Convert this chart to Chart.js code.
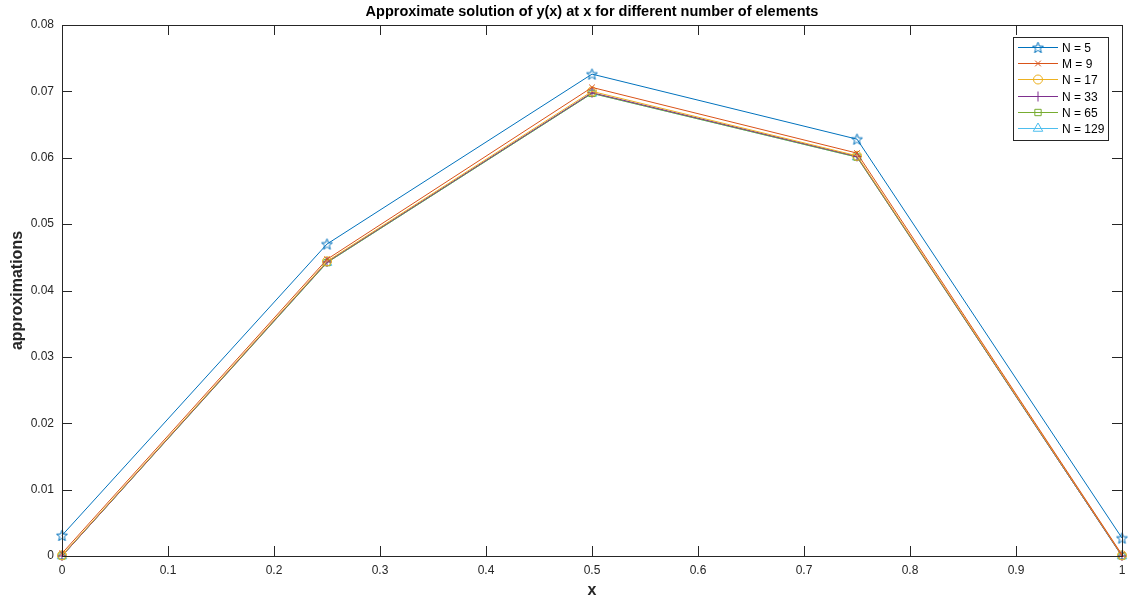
<!DOCTYPE html>
<html>
<head>
<meta charset="utf-8">
<script src="https://cdn.jsdelivr.net/npm/chart.js@4.4.1/dist/chart.umd.min.js"></script>
<style>
  body { margin: 0; background: #fff; }
  #wrap { width: 1134px; height: 605px; position: relative; }
</style>
</head>
<body>
<div id="wrap"><canvas id="chart"></canvas></div>
<script>
const xValues = [0, 0.25, 0.5, 0.75, 1];
const seriesNames = ["N = 5", "M = 9", "N = 17", "N = 33", "N = 65", "N = 129"];
const n5 = [0.0031, 0.0470, 0.0726, 0.0628, 0.0027];
const m9 = [0.0004, 0.0447, 0.0706, 0.0607, 0.0002];
const n17 = [0.0001, 0.0444, 0.0700, 0.0603, 0.0001];
const n33 = [0, 0.0443, 0.0698, 0.0602, 0];
const n65 = [0, 0.0442, 0.0697, 0.0601, 0];
const n129 = [0, 0.0442, 0.0697, 0.0601, 0];
const xTicks = [0, 0.1, 0.2, 0.3, 0.4, 0.5, 0.6, 0.7, 0.8, 0.9, 1];
const yTicks = [0, 0.01, 0.02, 0.03, 0.04, 0.05, 0.06, 0.07, 0.08];

const colors = ["#0072BD", "#D95319", "#EDB120", "#7E2F8E", "#77AC30", "#4DBEEE"];
const markerSize = [5, 4, 4.5, 5, 4.5, 5.5];
const allSeries = [n5, m9, n17, n33, n65, n129];

const axisColor = "#262626";
const fontFam = "'Liberation Sans', Arial, sans-serif";

// five-point star outline (chart.js 'star' is an asterisk)
function makeStar(color) {
  const cv = document.createElement("canvas");
  cv.width = 13; cv.height = 13;
  const c = cv.getContext("2d");
  c.strokeStyle = color;
  c.lineWidth = 1;
  c.beginPath();
  for (let k = 0; k < 10; k++) {
    const r = k % 2 === 0 ? 5.8 : 2.4;
    const ang = -Math.PI / 2 + k * Math.PI / 5;
    const px = 6.5 + r * Math.cos(ang), py = 7 + r * Math.sin(ang);
    if (k === 0) c.moveTo(px, py); else c.lineTo(px, py);
  }
  c.closePath();
  c.stroke();
  return cv;
}

const markers = [makeStar(colors[0]), "crossRot", "circle", "cross", "rect", "triangle"];

const datasets = allSeries.map((vals, i) => ({
  label: seriesNames[i],
  data: vals.map((v, j) => ({ x: xValues[j], y: v })),
  borderColor: colors[i],
  backgroundColor: "rgba(0,0,0,0)",
  borderWidth: 1,
  pointStyle: markers[i],
  pointRadius: markerSize[i],
  pointBorderWidth: 1,
  pointBorderColor: colors[i],
  pointBackgroundColor: "rgba(0,0,0,0)",
  showLine: true,
  tension: 0,
  clip: false
}));

// closed box with inward ticks, like the original figure
const boxPlugin = {
  id: "boxAxes",
  afterDatasetsDraw(chart) {
    const c = chart.ctx;
    const a = chart.chartArea;
    const xs = chart.scales.x, ys = chart.scales.y;
    c.save();
    c.strokeStyle = axisColor;
    c.lineWidth = 1;
    c.strokeRect(Math.round(a.left) + 0.5, Math.round(a.top) + 0.5,
      Math.round(a.right - a.left), Math.round(a.bottom - a.top));
    c.beginPath();
    xTicks.forEach(t => {
      const px = Math.round(xs.getPixelForValue(t)) + 0.5;
      c.moveTo(px, a.bottom); c.lineTo(px, a.bottom - 10);
      c.moveTo(px, a.top); c.lineTo(px, a.top + 10);
    });
    yTicks.forEach(t => {
      const py = Math.round(ys.getPixelForValue(t)) + 0.5;
      c.moveTo(a.left, py); c.lineTo(a.left + 10, py);
      c.moveTo(a.right, py); c.lineTo(a.right - 10, py);
    });
    c.stroke();

    // title
    c.fillStyle = "#000";
    c.font = "bold 14.5px " + fontFam;
    c.textAlign = "center";
    c.textBaseline = "middle";
    c.fillText("Approximate solution of y(x) at x for different number of elements", (a.left + a.right) / 2, 12);
    c.restore();
  },
  afterDraw(chart) {
    // legend box, MATLAB style: line with marker in the middle
    const c = chart.ctx;
    const a = chart.chartArea;
    const w = 95, rowH = 16.2, h = 103;
    const x0 = a.right - 14 - w, y0 = a.top + 12;
    c.save();
    c.fillStyle = "#fff";
    c.fillRect(x0, y0, w, h);
    c.strokeStyle = axisColor;
    c.lineWidth = 1;
    c.strokeRect(Math.round(x0) + 0.5, Math.round(y0) + 0.5, w, h);
    c.font = "12px " + fontFam;
    c.textAlign = "left";
    c.textBaseline = "middle";
    chart.data.datasets.forEach((ds, i) => {
      const y = Math.round(y0 + 10 + i * rowH) + 0.5;
      c.strokeStyle = ds.borderColor;
      c.lineWidth = 1;
      c.beginPath();
      c.moveTo(x0 + 5, y); c.lineTo(x0 + 45, y);
      c.stroke();
      c.fillStyle = "rgba(0,0,0,0)";
      Chart.helpers.drawPoint(c, { pointStyle: ds.pointStyle, radius: ds.pointRadius, rotation: 0, borderWidth: 1 }, x0 + 25, y);
      c.fillStyle = "#000";
      c.fillText(ds.label, x0 + 49, y + 1);
    });
    c.restore();
  }
};

const fmt = v => String(Number(Number(v).toFixed(2)));

const ctx = document.getElementById("chart").getContext("2d");
const config = {
  type: "scatter",
  data: { datasets: datasets },
  options: {
    responsive: true,
    maintainAspectRatio: false,
    animation: false,
    layout: { padding: { left: 0, right: 12, top: 25, bottom: 0 } },
    plugins: {
      legend: { display: false },
      title: { display: false },
      tooltip: { enabled: false }
    },
    scales: {
      x: {
        type: "linear",
        min: 0,
        max: 1,
        grid: { display: false, drawTicks: false },
        border: { display: false },
        afterFit: s => { s.height = 49; },
        afterBuildTicks: s => { s.ticks = xTicks.map(v => ({ value: v })); },
        ticks: {
          padding: 7,
          color: axisColor,
          font: { family: fontFam, size: 12 },
          callback: fmt,
          maxRotation: 0,
          autoSkip: false
        },
        title: {
          display: true,
          text: "x",
          color: axisColor,
          font: { family: fontFam, size: 16, weight: "bold" },
          padding: { top: 0, bottom: 5 }
        }
      },
      y: {
        type: "linear",
        min: 0,
        max: 0.08,
        grid: { display: false, drawTicks: false },
        border: { display: false },
        afterFit: s => { s.width = 62; },
        afterBuildTicks: s => { s.ticks = yTicks.map(v => ({ value: v })); },
        ticks: {
          padding: 8,
          color: axisColor,
          font: { family: fontFam, size: 12 },
          callback: fmt,
          autoSkip: false
        },
        title: {
          display: true,
          text: "approximations",
          color: axisColor,
          font: { family: fontFam, size: 16, weight: "bold" },
          padding: { top: 8, bottom: 0 }
        }
      }
    }
  },
  plugins: [boxPlugin]
};

const chart = new Chart(ctx, config);
</script>
</body>
</html>
